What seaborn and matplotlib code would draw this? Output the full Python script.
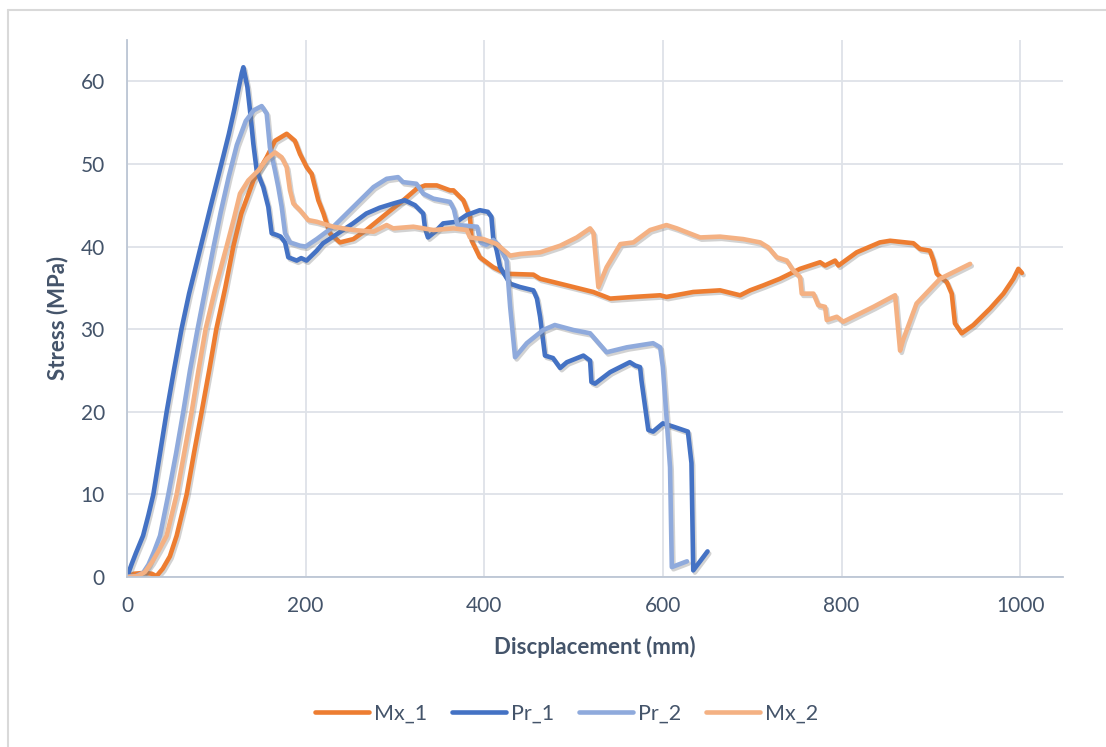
import matplotlib
matplotlib.use("Agg")
import matplotlib.pyplot as plt
import matplotlib.patheffects as pe
from matplotlib.lines import Line2D
import pandas as pd
import seaborn as sns

# Test series: displacement (mm) and stress (MPa)
mx1_disp = [0, 8, 20, 27.6, 33, 40, 48, 55.6, 66.8, 75, 83.6, 92, 100, 110, 119, 128, 141.5,
            156.4, 165.7, 178.8, 188, 193.7, 201.2, 206.8, 210.5, 214.2, 220, 227, 238.5, 253.4,
            268, 290.7, 309.4, 324.4, 333.7, 346.8, 361.7, 365.5, 376.6, 384, 386, 395, 410, 425,
            455, 462.5, 492.4, 522, 541, 567, 597, 604, 634, 664, 686.5, 697.6, 712.5, 731, 753.6,
            776, 781.6, 792.8, 796.6, 817, 843, 854.4, 880.5, 888, 899, 903, 906.7, 917.9, 923.4,
            927, 934.6, 947.6, 966.4, 981.3, 992.5, 998, 1002]
mx1_stress = [0, 0.4, 0.5, 0.4, 0.1, 1, 2.5, 5, 10, 15, 20, 25, 30, 35, 40, 44, 48,
              50.8, 52.8, 53.65, 52.8, 51.2, 49.6, 48.8, 47.2, 45.6, 44, 41.6, 40.5, 40.9,
              42, 44, 45.6, 47, 47.4, 47.4, 46.8, 46.8, 45.6, 43.6, 40.7, 38.7, 37.5, 36.7,
              36.6, 36.1, 35.3, 34.5, 33.7, 33.9, 34.1, 33.9, 34.5, 34.7, 34.1, 34.7, 35.3, 36.1, 37.3,
              38.1, 37.7, 38.3, 37.7, 39.3, 40.5, 40.7, 40.4, 39.7, 39.5, 38.3, 36.7, 35.7, 34.3,
              30.7, 29.5, 30.5, 32.5, 34.3, 36.1, 37.3, 36.8]

pr1_disp = [0, 5, 10, 18, 24, 29.5, 37, 44.4, 52.5, 61, 69.5, 78, 86, 94, 101, 108, 114, 120,
            125, 128.5, 130.3,
            134.8, 137.7, 141.5, 145.2, 152.6, 158.2, 162, 167.6, 172, 177, 180.6, 190, 195, 201,
            212.4, 219.5, 235, 253, 268, 283, 298, 311, 322.5, 331.7, 333.7, 337, 345, 354, 369,
            380, 395, 404, 408, 410, 414, 417.7, 429, 440, 455, 459, 462.5, 468, 477, 485, 492.5,
            511, 518.5, 520, 524, 541, 563, 569, 574.5, 576, 583.7, 589, 600, 611.6, 628, 632,
            634, 650]
pr1_stress = [0, 1.5, 2.9, 5, 7.5, 10, 15, 20, 25, 30, 34.3, 38, 41.5, 45, 48, 51, 53.6, 56.5,
              59.2, 61, 61.7,
              59.3, 56.5, 52.4, 49.2, 47.2, 44.8, 41.6, 41.4, 41.2, 40.5, 38.7, 38.3, 38.6, 38.3,
              39.5, 40.4, 41.5, 42.8, 44, 44.7, 45.2, 45.6, 45, 44, 42.2, 41.1, 41.8, 42.8, 43,
              43.8, 44.4, 44.2, 43.6, 41.1, 39.5, 37.5, 35.5, 35.1, 34.7, 33.7, 31.5, 26.8, 26.5, 25.3, 26,
              26.8, 26.2, 23.6, 23.4, 24.8, 26, 25.6, 25.4, 23.8, 17.8, 17.6, 18.6, 18.2, 17.6, 13.8,
              0.8, 3.1]

pr2_disp = [0, 10, 18, 24, 30, 37, 46.3, 55, 63, 70.5, 79, 88, 97, 105, 114, 123, 133, 142, 150.8,
            156.4, 160, 165.7, 169.4, 173.2, 177, 182.5, 193.7, 200, 212.4, 231, 253.5, 276, 290.7,
            303.5, 309, 324, 331.7, 343, 361.7, 366, 370, 392, 396, 402, 410, 416, 425, 429, 434.5,
            447.6, 466, 479, 499.6, 518.5, 537, 559.6, 589, 597, 600, 604, 608, 610, 627]
pr2_stress = [0, 0.1, 0.5, 1.5, 3, 5, 10, 15, 20, 25, 30, 35, 40, 44.2, 48.5, 52.3, 55.2, 56.5, 57,
              56.1, 52, 49.2, 47.2, 44.8, 41.6, 40.5, 40.1, 40, 40.9, 42.4, 44.8, 47.2, 48.2,
              48.4, 47.8, 47.6, 46.4, 45.8, 45.4, 44.5, 42.6, 42.4, 40.5, 40.2, 40.8, 40.2, 38.3, 32.7, 26.6,
              28.3, 29.9, 30.5, 29.9, 29.5, 27.2, 27.8, 28.3, 27.8, 25.4, 19.4, 13.3, 1.2, 1.9]

mx2_disp = [0, 12, 20, 28, 36, 44.4, 55.6, 64, 72.4, 80, 88, 99, 111.5, 120, 126.5, 135.8, 147,
            156.4, 165.7, 173.2, 178.8, 182.5, 186.3, 193.7, 203, 212.4, 231, 253.4, 276, 290.7,
            298, 320.6, 343, 365.5, 380.4, 384, 399, 414, 429, 440, 462.5, 485, 503.6, 518.5,
            522.3, 527.8, 537, 552.5, 567, 585.7, 604, 615.5, 641.7, 664, 690, 709, 718, 727.5,
            738.7, 746, 753.6, 755.5, 768.6, 774, 781.6, 783.5, 794.7, 802, 807.6, 835.7, 860,
            865.6, 869, 884, 910.4, 944]
mx2_stress = [0, 0.1, 0.6, 1.8, 3.3, 5, 10, 15, 20, 25, 30, 35, 40, 43.5, 46.4, 48, 49.2,
              50.6, 51.4, 50.8, 49.6, 46.8, 45.2, 44.4, 43.2, 43, 42.4, 42, 41.8, 42.6,
              42.2, 42.4, 42, 42.2, 42, 41.1, 40.9, 40.3, 38.9, 39.1, 39.3, 40.1, 41.1, 42.2,
              41.6, 35.1, 37.5, 40.3, 40.5, 42, 42.6, 42.2, 41.1, 41.2, 40.9, 40.5, 39.9, 38.7,
              38.3, 37.1, 36.3, 34.3, 34.3, 32.9, 32.7, 31.1, 31.5, 30.9, 31.2, 32.7, 34.1,
              27.4, 28.7, 33.1, 36.1, 37.9]

series_names = ["Mx_1", "Pr_1", "Pr_2", "Mx_2"]
series_colors = ["#ED7D31", "#4472C4", "#8FAADC", "#F4B183"]
x_ticks = [0, 200, 400, 600, 800, 1000]
y_ticks = [0, 10, 20, 30, 40, 50, 60]

frames = []
for name, xs, ys in zip(series_names,
                        [mx1_disp, pr1_disp, pr2_disp, mx2_disp],
                        [mx1_stress, pr1_stress, pr2_stress, mx2_stress]):
    frames.append(pd.DataFrame({"disp": xs, "stress": ys, "series": name}))
data = pd.concat(frames, ignore_index=True)

sns.set_theme(style="white")
plt.rcParams["font.family"] = ["Lato", "DejaVu Sans"]
text_color = "#44546A"

W, H = 1106, 747
fig = plt.figure(figsize=(W / 100, H / 100), dpi=100)
ax = fig.add_axes([127 / W, 1 - 577 / H, 936 / W, 537 / H])

shadow = [pe.SimpleLineShadow(offset=(1.2, -1.6), shadow_color="#7f7f7f", alpha=0.35),
          pe.Normal()]
for name, color in zip(series_names, series_colors):
    sub = data[data["series"] == name]
    sns.lineplot(data=sub, x="disp", y="stress", ax=ax, sort=False, estimator=None,
                 color=color, linewidth=3.3, legend=False,
                 path_effects=shadow, solid_capstyle="round", solid_joinstyle="round")

ax.set_xlim(0, 1048)
ax.set_ylim(0, 65)
ax.set_xticks(x_ticks)
ax.set_yticks(y_ticks)
ax.grid(True, color="#DEE2E8", linewidth=1.3)
ax.set_axisbelow(True)
for side in ["top", "right"]:
    ax.spines[side].set_visible(False)
for side in ["left", "bottom"]:
    ax.spines[side].set_color("#BCC6D4")
    ax.spines[side].set_linewidth(1.3)
ax.tick_params(axis="both", length=0, labelsize=15, labelcolor=text_color)
ax.tick_params(axis="x", pad=14)
ax.tick_params(axis="y", pad=16)

ax.set_xlabel("Discplacement (mm)", fontsize=16, fontweight="bold", color=text_color,
              va="center")
ax.set_ylabel("Stress (MPa)", fontsize=16, fontweight="bold", color=text_color,
              va="center")
ax.xaxis.set_label_coords(0.5, (577 - 647) / 537)
ax.yaxis.set_label_coords((58 - 127) / 936, (577 - 318) / 537)

handles = [Line2D([0], [0], color=c, linewidth=3.3, solid_capstyle="round") for c in series_colors]
fig.legend(handles, series_names, loc="center", bbox_to_anchor=(566.5 / W, 1 - 714 / H),
           ncol=4, frameon=False, fontsize=15.5, handlelength=2.5, handletextpad=0.23,
           columnspacing=1.16, labelcolor=text_color)

# chart-area border
fig.add_artist(Line2D([8 / W, 8 / W], [0, 1 - 10 / H], transform=fig.transFigure,
                      color="#D9D9D9", linewidth=1.5))
fig.add_artist(Line2D([8 / W, 1], [1 - 10 / H, 1 - 10 / H], transform=fig.transFigure,
                      color="#D9D9D9", linewidth=1.5))

fig.savefig("out.png", dpi=100)
